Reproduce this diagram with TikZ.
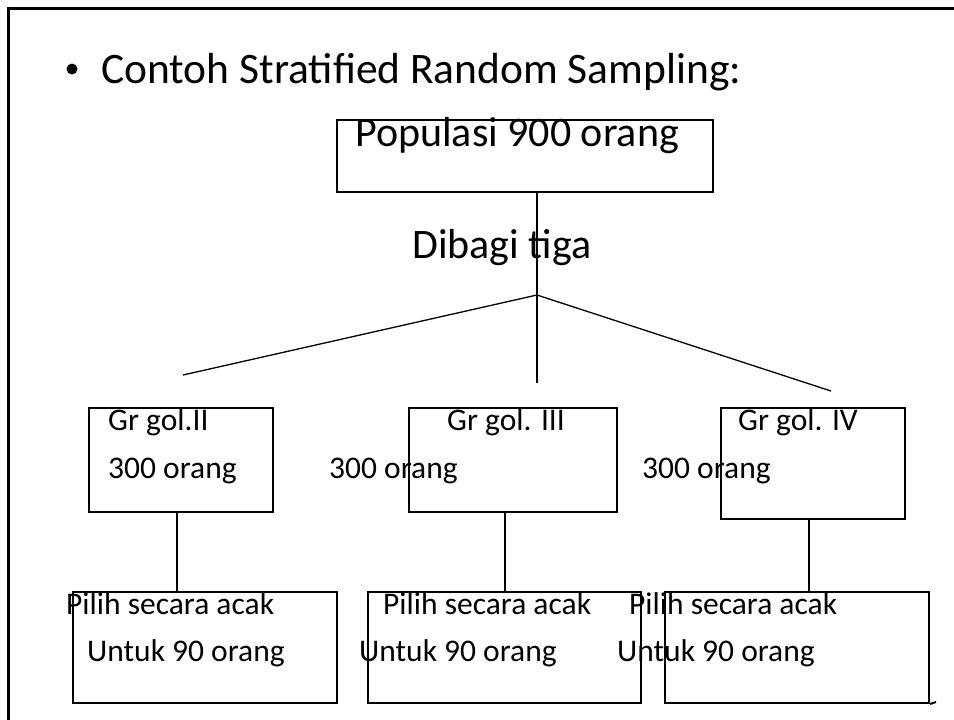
\documentclass[tikz,border=0pt]{standalone}
\usepackage{fontspec}
\setmainfont{Carlito}
\usetikzlibrary{positioning}

\tikzset{
	kotak/.style={draw, line width=2pt, inner sep=0pt, anchor=north west},
	teks/.style={inner sep=0pt, anchor=base west},
	besar/.style={teks, font=\fontsize{42}{48}\selectfont},
	kecil/.style={teks, font=\fontsize{31.5}{36}\selectfont},
	garis/.style={line width=2pt},
	tipis/.style={line width=1.3pt}
}

\begin{document}
\begin{tikzpicture}[x=1pt, y=-1pt]
	\useasboundingbox (0,0) rectangle (954,720);

	% Bingkai
	\draw [line width=3pt] (8,720) |- (954,8);

	% Judul
	\node [circle, fill, inner sep=0pt, minimum size=11pt] (bullet) at (72,69) {};
	\node [teks, font=\fontsize{43.5}{50}\selectfont] (judul) at (101,83) {Contoh Stratified Random Sampling:};

	% Populasi
	\node [kotak, minimum width=376pt, minimum height=72pt] (pop) at (336,119) {};
	\node [besar] (tpop) at (355,146) {Populasi 900 orang};
	\node [besar] (tbagi) at (412,258) {Dibagi tiga};

	% Cabang
	\coordinate (puncak) at (537,295);
	\coordinate (ujungkiri) at (183,375);
	\coordinate (ujungtengah) at (537,383);
	\coordinate (ujungkanan) at (831,391);
	\draw [garis] (pop.south -| puncak) -- (ujungtengah);
	\draw [tipis] (puncak) -- (ujungkiri);
	\draw [tipis] (puncak) -- (ujungkanan);

	% Golongan
	\node [kotak, minimum width=184pt, minimum height=104pt] (g2) at (88,407) {};
	\node [kotak, minimum width=208pt, minimum height=104pt] (g3) at (408,407) {};
	\node [kotak, minimum width=184pt, minimum height=111pt] (g4) at (720,407) {};
	\node [kecil] (tg2) at (108,430) {Gr gol.II};
	\node [kecil] (tg3) at (447,430) {Gr gol. III};
	\node [kecil] (tg4) at (738,430) {Gr gol. IV};
	\node [kecil] (n2) at (108,478) {300 orang};
	\node [kecil] (n3) at (329,478) {300 orang};
	\node [kecil] (n4) at (642,478) {300 orang};

	% Pilih acak
	\node [kotak, minimum width=264pt, minimum height=111pt] (p2) at (72,591) {};
	\node [kotak, minimum width=273pt, minimum height=111pt] (p3) at (367,591) {};
	\node [kotak, minimum width=264pt, minimum height=111pt] (p4) at (664,591) {};
	\coordinate (ujungbawah) at (936,702);
	\draw [garis] (p4.south east) -- (ujungbawah);
	\node [kecil] (a2) at (66,614) {Pilih secara acak};
	\node [kecil] (a3) at (383,614) {Pilih secara acak};
	\node [kecil] (a4) at (629,614) {Pilih secara acak};
	\node [kecil] (u2) at (87,661) {Untuk 90 orang};
	\node [kecil] (u3) at (359,661) {Untuk 90 orang};
	\node [kecil] (u4) at (617,661) {Untuk 90 orang};

	% Penghubung
	\foreach \g/\p/\dx in {g2/p2/-4, g3/p3/-8, g4/p4/-4}
		\draw [garis] ([xshift=\dx pt]\g.south) -- ([xshift=\dx pt]\g.south |- \p.north);
\end{tikzpicture}
\end{document}
